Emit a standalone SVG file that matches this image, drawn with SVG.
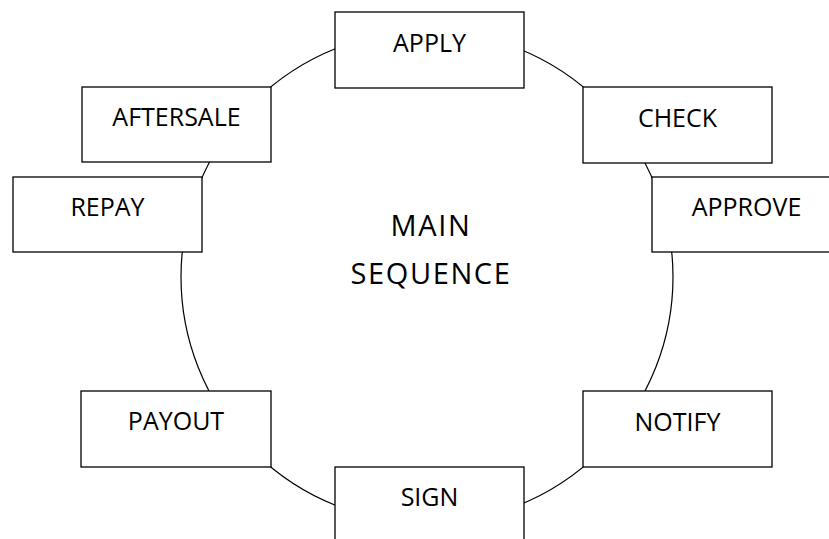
<svg xmlns="http://www.w3.org/2000/svg" width="829" height="539" viewBox="0 0 829 539">
<style>
.box{fill:#fff;stroke:#000;stroke-width:1.3}
.lbl{font-family:"Open Sans",sans-serif;font-size:25px;fill:#000;text-anchor:middle}
.main{font-family:"Open Sans",sans-serif;font-size:29px;fill:#000;text-anchor:middle;letter-spacing:1.6px}
</style>
<rect width="829" height="539" fill="#fff"/>
<g id="connectors">
<circle cx="427" cy="277" r="246" fill="none" stroke="#000" stroke-width="1.2"/>
</g>
<g id="center"><text class="main" x="431" y="236">MAIN</text><text class="main" x="431" y="284">SEQUENCE</text></g>
<g id="apply"><rect class="box" x="335" y="12" width="189" height="76"/><text class="lbl" x="429.5" y="52">APPLY</text></g>
<g id="check"><rect class="box" x="583" y="87" width="189" height="76"/><text class="lbl" x="677.5" y="127">CHECK</text></g>
<g id="approve"><rect class="box" x="652" y="177" width="189" height="75"/><text class="lbl" x="746.5" y="216">APPROVE</text></g>
<g id="notify"><rect class="box" x="583" y="391" width="189" height="76"/><text class="lbl" x="677.5" y="431">NOTIFY</text></g>
<g id="sign"><rect class="box" x="335" y="467" width="189" height="76"/><text class="lbl" x="429.5" y="506">SIGN</text></g>
<g id="payout"><rect class="box" x="81" y="391" width="190" height="76"/><text class="lbl" x="176" y="430">PAYOUT</text></g>
<g id="repay"><rect class="box" x="13" y="177" width="189" height="75"/><text class="lbl" x="107.5" y="216">REPAY</text></g>
<g id="aftersale"><rect class="box" x="82" y="87" width="189" height="75"/><text class="lbl" x="176.5" y="126">AFTERSALE</text></g>
</svg>
